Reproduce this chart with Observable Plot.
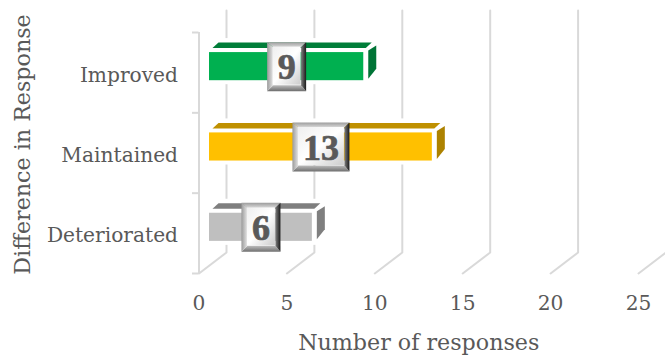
<!DOCTYPE html>
<html>
<head>
<meta charset="utf-8">
<script src="https://cdn.jsdelivr.net/npm/d3@7"></script>
<script src="https://cdn.jsdelivr.net/npm/@observablehq/plot@0.6"></script>
<style>
  html, body { margin: 0; padding: 0; background: #fff; }
  svg { display: block; }
</style>
</head>
<body>
<script>
// Survey responses per outcome
const categories = ["Deteriorated", "Maintained", "Improved"];
const responses = [6, 13, 9];
const frontColors = ["#BFBFBF", "#FFC000", "#00B050"];
const topColors = ["#7F7F7F", "#BF9000", "#007D39"];
const sideColors = ["#7F7F7F", "#AD8200", "#007436"];
const xTicks = [0, 5, 10, 15, 20, 25];
const bandEdges = [0, 1, 2, 3];

const fontFamily = "'DejaVu Serif', serif";
const badgeFont = "'Liberation Serif', serif";
const tickSize = 20.2;
const titleSize = 22.2;
const textColor = "#595959";
const gridColor = "#D9D9D9";

// Frame of the front plane of the pseudo-3D chart
const margin = {left: 198.5, right: 27, top: 32, bottom: 84};
const pxX = (665 - margin.left - margin.right) / 25;
const pxY = (357 - margin.top - margin.bottom) / 3;
const ox = (p) => p / pxX;
const oy = (p) => p / pxY;

// Bars sit part way into the depth, so they start inset and run slightly shorter
const barStart = ox(10.5);
const barShrink = 0.975;
const bars = categories.map((name, i) => {
  const x1 = barStart;
  const x2 = barStart + responses[i] * barShrink;
  const y1 = i + 0.4;
  const y2 = i + 0.75;
  return {name, i, value: responses[i], x1, x2, y1, y2, front: frontColors[i], top: topColors[i], side: sideColors[i]};
});

const polygon = (pts, options) =>
  Plot.line(pts.map(([x, y]) => ({x, y})), {x: "x", y: "y", curve: "linear", stroke: "none", ...options});

// Back-wall grid lines with the floor segments that lead back to them
const wallX = ox(27.5);
const wallBottom = oy(21);
const wallTop = oy(263);
const gridMarks = xTicks.map((t) =>
  Plot.line(
    [{x: t, y: 0}, {x: t + wallX, y: wallBottom}, {x: t + wallX, y: wallTop}],
    {x: "x", y: "y", stroke: gridColor, strokeWidth: 2, curve: "linear", clip: false}
  )
);

const barMarks = bars.flatMap((b) => [
  // white halo that interrupts the grid lines around each bar
  Plot.rect([b], {x1: (d) => d.x1, x2: (d) => d.x2 + ox(14), y1: (d) => d.y1 - oy(4), y2: (d) => d.y2 + oy(14), fill: "white"}),
  polygon([
    [b.x1 + ox(3), b.y2 + oy(4.5)],
    [b.x2 + ox(2), b.y2 + oy(4.5)],
    [b.x2 + ox(8), b.y2 + oy(10)],
    [b.x1 + ox(9), b.y2 + oy(10)]
  ], {fill: b.top}),
  polygon([
    [b.x2 + ox(4.5), b.y2 + oy(2)],
    [b.x2 + ox(12.5), b.y2 + oy(7)],
    [b.x2 + ox(12.5), b.y1 + oy(12)],
    [b.x2 + ox(4.5), b.y1 + oy(2)]
  ], {fill: b.side}),
  Plot.rect([b], {x1: "x1", x2: "x2", y1: "y1", y2: "y2", fill: b.front})
]);

// Bevelled value badges centred on the front face of each bar
const badgeMarks = bars.flatMap((b) => {
  const cx = (b.x1 + b.x2) / 2;
  const cy = (b.y1 + b.y2) / 2;
  const half = ox(b.value >= 10 ? 28.5 : 19.5);
  const left = cx - half, right = cx + half;
  const top = cy + oy(24.5), bottom = cy - oy(24.5);
  const il = left + ox(6), ir = right - ox(5), it = top - oy(5), ib = bottom + oy(6);
  return [
    polygon([[left, top], [right, top], [ir, it], [il, it]], {fill: "url(#bevelTop)"}),
    polygon([[left, bottom], [right, bottom], [ir, ib], [il, ib]], {fill: "url(#bevelBottom)"}),
    polygon([[left, top], [il, it], [il, ib], [left, bottom]], {fill: "url(#bevelLeft)"}),
    polygon([[right, top], [ir, it], [ir, ib], [right, bottom]], {fill: "url(#bevelRight)"}),
    Plot.rect([b], {x1: () => il, x2: () => ir, y1: () => ib, y2: () => it, fill: "url(#badgeFace)"}),
    Plot.text([b], {
      x: () => cx, y: () => cy, text: (d) => String(d.value),
      fontSize: 36, fontWeight: "bold", fontFamily: badgeFont, fill: textColor,
      stroke: textColor, strokeWidth: 0.7, dy: 1
    })
  ];
});

const chart = Plot.plot({
  width: 665,
  height: 357,
  marginLeft: margin.left,
  marginRight: margin.right,
  marginTop: margin.top,
  marginBottom: margin.bottom,
  style: {fontFamily, background: "white", overflow: "hidden"},
  x: {domain: [0, 25]},
  y: {domain: [0, 3]},
  marks: [
    ...gridMarks,
    Plot.ruleX([0], {y1: 0, y2: 3, stroke: gridColor, strokeWidth: 2}),
    Plot.ruleY(bandEdges, {x1: ox(-6.5), x2: 0, stroke: gridColor, strokeWidth: 2}),
    ...barMarks,
    ...badgeMarks,
    Plot.axisX({
      ticks: xTicks, tickSize: 0, tickPadding: 22, fontSize: tickSize, color: textColor, label: null
    }),
    Plot.text(["Number of responses"], {
      x: 12.5, y: oy(273 - 342),
      fontSize: titleSize, fill: textColor, fontFamily
    }),
    Plot.axisY({
      ticks: categories.map((_, i) => i + 0.5),
      tickFormat: (d) => categories[d - 0.5],
      tickSize: 0, tickPadding: 21, fontSize: tickSize, color: textColor, label: null, dy: 2.5
    }),
    Plot.text(["Difference in Response"], {
      x: ox(22 - margin.left), y: oy(273 - 144), rotate: -90,
      fontSize: titleSize, fill: textColor, fontFamily
    })
  ]
});

// Gradients used by the badge faces and bevels
const ns = "http://www.w3.org/2000/svg";
const defs = document.createElementNS(ns, "defs");
const addGradient = (id, [x1, y1, x2, y2], stops) => {
  const g = document.createElementNS(ns, "linearGradient");
  g.setAttribute("id", id);
  g.setAttribute("x1", x1); g.setAttribute("y1", y1);
  g.setAttribute("x2", x2); g.setAttribute("y2", y2);
  stops.forEach(([offset, color]) => {
    const s = document.createElementNS(ns, "stop");
    s.setAttribute("offset", offset);
    s.setAttribute("stop-color", color);
    g.appendChild(s);
  });
  defs.appendChild(g);
};
addGradient("badgeFace", [0, 0, 1, 1], [[0, "#EFEFEF"], [0.5, "#FFFFFF"], [1, "#CCCCCC"]]);
addGradient("bevelTop", [0, 0, 0, 1], [[0, "#9C9C9C"], [1, "#DADADA"]]);
addGradient("bevelLeft", [0, 0, 1, 0], [[0, "#9A9A9A"], [1, "#E6E6E6"]]);
addGradient("bevelRight", [0, 0, 1, 0], [[0, "#7E7E7E"], [1, "#1A1A1A"]]);
addGradient("bevelBottom", [0, 0, 0, 1], [[0, "#BDBDBD"], [1, "#6E6E6E"]]);
chart.insertBefore(defs, chart.firstChild);

document.body.appendChild(chart);
</script>
</body>
</html>
